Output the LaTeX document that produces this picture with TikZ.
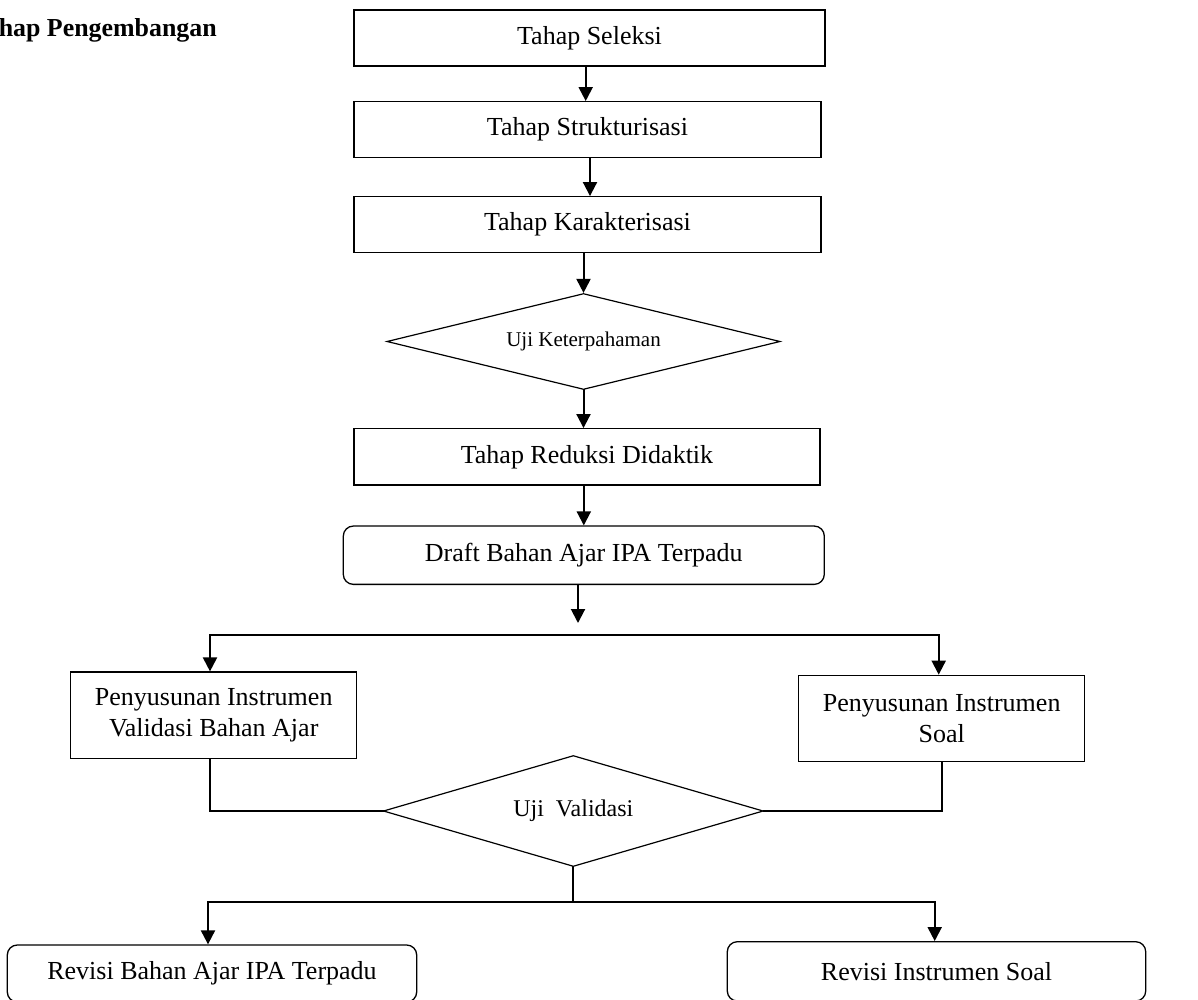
\documentclass[tikz,border=0pt]{standalone}
\usepackage{fontspec}
\setmainfont{Liberation Serif}
\usetikzlibrary{shapes.geometric,arrows.meta}
\begin{document}
\begin{tikzpicture}[x=1pt,y=-1pt,
  box/.style={draw,line width=1.3pt,inner sep=0pt,font=\fontsize{26}{30.7}\selectfont,align=center},
  rbox/.style={box,rounded corners=10pt},
  dia/.style={diamond,draw,line width=1.2pt,inner sep=0pt,shape aspect=4},
  line/.style={line width=2pt,line cap=rect},
  arr/.style={line,-{Triangle[length=14pt,width=14pt]}}]
\useasboundingbox (0,0) rectangle (1198,999);
\clip (0,0) rectangle (1198,999);

\node[anchor=base east,inner sep=0pt,font=\bfseries\fontsize{25.9}{30}\selectfont] (title) at (217,36) {Tahap Pengembangan};

\node[box,minimum width=471pt,minimum height=56pt] (sel) at (589.5,38) {Tahap Seleksi};
\node[box,minimum width=467pt,minimum height=56pt] (str) at (587.5,129.7) {Tahap Strukturisasi};
\node[box,minimum width=467pt,minimum height=55.8pt] (kar) at (587.5,224.6) {Tahap Karakterisasi};
\node[dia,minimum width=393.3pt,minimum height=96pt,font=\fontsize{21}{25}\selectfont] (uk) at (583.5,341.5) {Uji Keterpahaman};
\node[box,minimum width=466pt,minimum height=56.3pt] (red) at (587,456.85) {Tahap Reduksi Didaktik};
\node[rbox,minimum width=481pt,minimum height=58.3pt] (draft) at (583.8,555.2) {Draft Bahan Ajar IPA Terpadu};
\node[box,minimum width=286pt,minimum height=86.3pt] (pb) at (213.7,715.2) {Penyusunan Instrumen\\Validasi Bahan Ajar};
\node[box,minimum width=286pt,minimum height=86pt] (ps) at (941.7,718.3) {Penyusunan Instrumen\\Soal};
\node[dia,minimum width=380pt,minimum height=111pt,font=\fontsize{24}{28}\selectfont] (uv) at (573.3,811) {Uji\ \ Validasi};
\node[rbox,minimum width=409.4pt,minimum height=57pt] (rb) at (212,973.5) {Revisi Bahan Ajar IPA Terpadu};
\node[rbox,minimum width=418.4pt,minimum height=59.3pt] (rs) at (936.5,971.35) {Revisi Instrumen Soal};

\coordinate (c1) at (585.7,0);
\coordinate (c2) at (590,0);
\draw[arr] (sel.south -| c1) -- (str.north -| c1);
\draw[arr] (str.south -| c2) -- (kar.north -| c2);
\draw[arr] (kar.south -| uk.north) -- (uk.north);
\draw[arr] (uk.south) -- (red.north -| uk.south);
\draw[arr] (red.south -| draft.north) -- (draft.north);

\coordinate (d1) at (578,623);
\draw[arr] (draft.south -| d1) -- (d1);
\coordinate (hL) at (210,634.7);
\coordinate (hR) at (938.7,634.7);
\draw[line] (hL) -- (hR);
\draw[arr] (hL) -- (hL |- pb.north);
\draw[arr] (hR) -- (hR |- ps.north);

\draw[line] (pb.south -| hL) |- (uv.west);
\draw[line] (ps.south) |- (uv.east);

\coordinate (bL) at (208,901.5);
\coordinate (bR) at (934.7,901.5);
\draw[line] (uv.south) -- (uv.south |- bL);
\draw[line] (bL) -- (bR);
\draw[arr] (bL) -- (bL |- rb.north);
\draw[arr] (bR) -- (bR |- rs.north);
\end{tikzpicture}
\end{document}
